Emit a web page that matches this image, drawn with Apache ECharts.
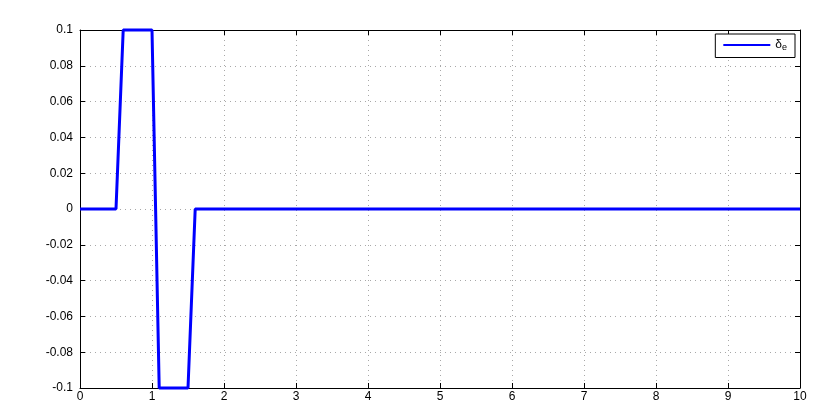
<!DOCTYPE html>
<html>
<head>
<meta charset="utf-8">
<script src="https://cdn.jsdelivr.net/npm/echarts@6/dist/echarts.min.js"></script>
<style>
  html, body { margin: 0; padding: 0; background: #fff; }
  #chart { width: 830px; height: 415px; }
</style>
</head>
<body>
<div id="chart"></div>
<script>
// elevator deflection step input
const timeVals = [0, 0.5, 0.6, 1.0, 1.1, 1.5, 1.6, 10];
const deltaE = [0, 0, 0.1, 0.1, -0.1, -0.1, 0, 0];
const seriesName = 'δe';

const chart = echarts.init(document.getElementById('chart'));
const font = 'Liberation Sans, Arial, sans-serif';

const gridLine = { show: true, lineStyle: { color: '#a8a8a8', type: [1, 4], width: 1 } };
const frame = { show: true, onZero: false, lineStyle: { color: '#000', width: 1 } };
const ticks = { show: true, inside: true, length: 5, lineStyle: { color: '#000' } };

const option = {
  animation: false,
  grid: { left: 80, right: 30, top: 30, bottom: 27 },
  legend: {
    right: 35, top: 34,
    itemWidth: 47, itemHeight: 10,
    padding: [5, 8, 5, 8],
    itemGap: 0,
    borderColor: '#000', borderWidth: 1,
    backgroundColor: '#fff',
    data: [{ name: seriesName, icon: 'path://M0,4 L47,4 L47,6 L0,6 Z' }],
    formatter: () => '{d|δ}{s|e}',
    textStyle: {
      rich: {
        d: { fontFamily: font, fontSize: 12, color: '#000' },
        s: { fontFamily: font, fontSize: 9, color: '#000', verticalAlign: 'bottom', padding: [6, 0, 0, 0] }
      }
    }
  },
  xAxis: [
    {
      type: 'value', min: 0, max: 10, interval: 1,
      axisLine: frame, axisTick: ticks, splitLine: gridLine,
      axisLabel: { color: '#000', fontFamily: font, fontSize: 12, margin: 3 }
    },
    {
      type: 'value', position: 'top', min: 0, max: 10, interval: 1,
      axisLine: frame, axisTick: ticks, splitLine: { show: false },
      axisLabel: { show: false }
    }
  ],
  yAxis: [
    {
      type: 'value', min: -0.1, max: 0.1, interval: 0.02,
      axisLine: frame, axisTick: ticks, splitLine: gridLine,
      axisLabel: {
        color: '#000', fontFamily: font, fontSize: 12, margin: 7,
        formatter: v => String(parseFloat(v.toFixed(2)))
      }
    },
    {
      type: 'value', position: 'right', min: -0.1, max: 0.1, interval: 0.02,
      axisLine: frame, axisTick: ticks, splitLine: { show: false },
      axisLabel: { show: false }
    }
  ],
  series: [
    {
      name: seriesName,
      type: 'line',
      data: timeVals.map((t, i) => [t, deltaE[i]]),
      showSymbol: false,
      lineStyle: { color: '#0000ff', width: 3 },
      itemStyle: { color: '#0000ff' },
      clip: false
    }
  ]
};

chart.setOption(option);
</script>
</body>
</html>
